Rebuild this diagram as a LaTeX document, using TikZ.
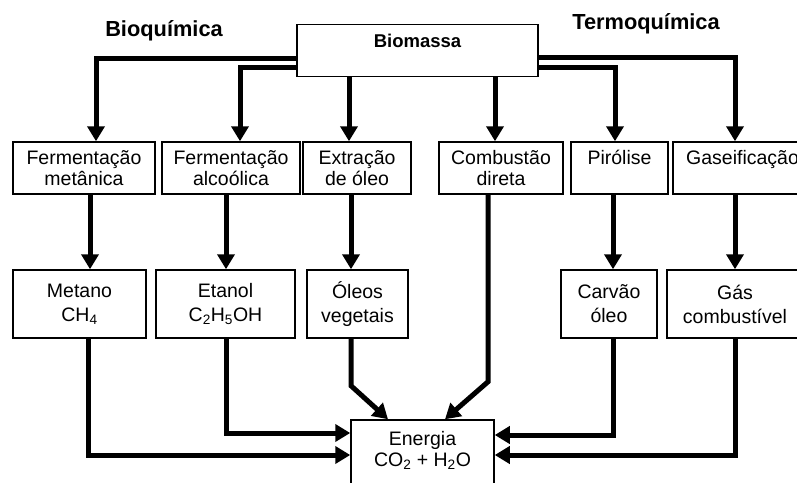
\documentclass[tikz,border=0pt]{standalone}
\usepackage{fontspec}
\setmainfont{Liberation Sans}
\usepackage{tikz}
\usetikzlibrary{arrows.meta}

\begin{document}
\begin{tikzpicture}
            [x=1pt, y=-1pt, line join=miter,
            flow/.style={-{Triangle[length=15pt,width=17pt]}, line width=5pt},
            box/.style={rectangle, draw=black, line width=1.5pt, fill=white, inner sep=0pt, align=center,
                font=\fontsize{19.5}{21}\selectfont},
            tallbox/.style={box, minimum height=68pt, font=\fontsize{19.5}{24}\selectfont},
            route/.style={font=\bfseries\fontsize{21.8}{24}\selectfont}]
            \useasboundingbox (0,0) rectangle (797,482);
            \clip (0,0) rectangle (797,482);

            % source
            \node[box, minimum width=241pt, minimum height=52pt, font=\bfseries\fontsize{18.5}{19}\selectfont]  (bio)  at (417.5,50.5)
            {Biomassa \\ ~};

            \node[route]  (bq)  at (164,31) {Bioquímica};
            \node[route]  (tq)  at (646,24) {Termoquímica};

            % processes
            \node[box, minimum width=142pt, minimum height=52pt]  (fm)  at (84,168)
            {Fermentação \\ metânica};
            \node[box, minimum width=138pt, minimum height=52pt]  (fa)  at (231,168)
            {Fermentação \\ alcoólica};
            \node[box, minimum width=108pt, minimum height=52pt]  (eo)  at (357,168)
            {Extração \\ de óleo};
            \node[box, minimum width=124pt, minimum height=52pt]  (cd)  at (501,168)
            {Combustão \\ direta};
            \node[box, minimum width=97pt, minimum height=52pt]   (pi)  at (619.5,168)
            {Pirólise \\ ~};
            \node[box, minimum width=139pt, minimum height=52pt]  (ga)  at (742.5,168)
            {Gaseificação \\ ~};

            % products
            \node[tallbox, minimum width=133pt]  (me)  at (79.5,304)
            {Metano \\ CH\textsubscript{4}};
            \node[tallbox, minimum width=139pt]  (et)  at (225.5,304)
            {Etanol \\ C\textsubscript{2}H\textsubscript{5}OH};
            \node[tallbox, minimum width=101pt]  (ov)  at (357.5,304)
            {Óleos \\ vegetais};
            \node[tallbox, minimum width=96pt]   (ca)  at (609,304)
            {Carvão \\ óleo};
            \node[tallbox, minimum width=136pt]  (gc)  at (735,304)
            {Gás \\ combustível};

            \node[box, minimum width=143pt, minimum height=78pt]  (en)  at (422.5,459)
            {Energia \\ CO\textsubscript{2} + H\textsubscript{2}O \\ ~};

            % biomassa -> processes
            \draw[flow] ([yshift=-8pt]bio.west) -| ([xshift=12pt]fm.north);
            \draw[flow] ([yshift=-16.5pt]bio.west) -| ([xshift=9pt]fa.north);
            \draw[flow] ([xshift=-8pt]eo.north |- bio.south) -- ([xshift=-8pt]eo.north);
            \draw[flow] ([xshift=-6pt]cd.north |- bio.south) -- ([xshift=-6pt]cd.north);
            \draw[flow] ([yshift=-16.5pt]bio.east) -| ([xshift=-4.5pt]pi.north);
            \draw[flow] ([yshift=-7pt]bio.east) -| ([xshift=-7.5pt]ga.north);

            % processes -> products
            \draw[flow] ([xshift=6pt]fm.south) -- ([xshift=6pt]fm.south |- me.north);
            \draw[flow] ([xshift=-5pt]fa.south) -- ([xshift=-5pt]fa.south |- et.north);
            \draw[flow] ([xshift=-6pt]eo.south) -- ([xshift=-6pt]eo.south |- ov.north);
            \draw[flow] ([xshift=-6.5pt]pi.south) -- ([xshift=-6.5pt]pi.south |- ca.north);
            \draw[flow] ([xshift=-7.5pt]ga.south) -- ([xshift=-7.5pt]ga.south |- gc.north);

            % products -> energia
            \draw[flow] ([xshift=8.5pt]me.south) |- ([yshift=4pt]en.west);
            \draw[flow] ([xshift=0.5pt]et.south) |- ([yshift=26pt]en.west);
            \draw[flow] ([xshift=-6.5pt]ov.south) -- ++(0,47) -- ([xshift=-34.5pt]en.north);
            \draw[flow] ([xshift=-13pt]cd.south) -- ++(0,187) -- ([xshift=22.5pt]en.north);
            \draw[flow] ([xshift=4pt]ca.south) |- ([yshift=24pt]en.east);
            \draw[flow] (gc.south) |- ([yshift=4pt]en.east);
        \end{tikzpicture}
\end{document}
